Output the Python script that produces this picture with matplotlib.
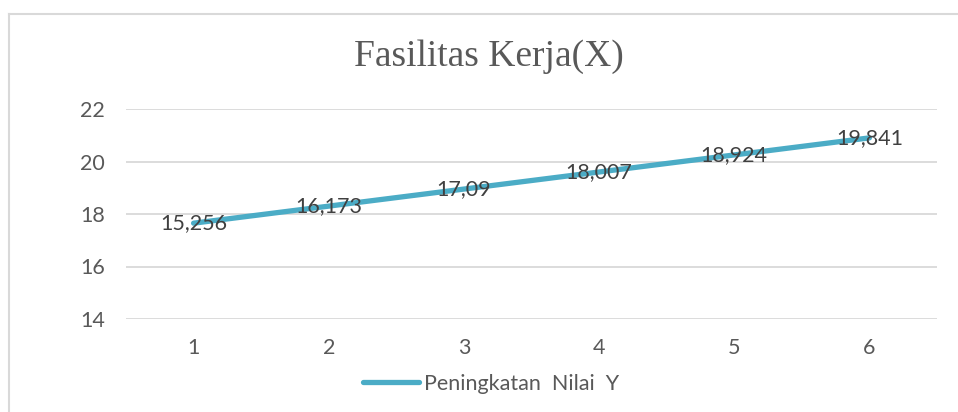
import matplotlib.pyplot as plt
from matplotlib.lines import Line2D

# data
kategori = [1, 2, 3, 4, 5, 6]
nilai_y = [17.65, 18.3, 18.95, 19.6, 20.25, 20.9]
label_data = ['15,256', '16,173', '17,09', '18,007', '18,924', '19,841']
y_ticks = [14, 16, 18, 20, 22]

fig = plt.figure(figsize=(9.58, 4.12), dpi=100)
ax = fig.add_axes([126 / 958, 1 - 319 / 412, (937 - 126) / 958, (319 - 109) / 412])

grey = '#d9d9d9'
text_grey = '#595959'
fs = 15.5

ax.plot(kategori, nilai_y, color='#4bacc6', lw=3.8, solid_capstyle='round',
        label='Peningkatan  Nilai  Y', zorder=3)
for x, y, t in zip(kategori, nilai_y, label_data):
    ax.text(x, y, t, ha='center', va='center', fontsize=fs,
            family='Lato', color='#404040', zorder=4)

ax.set_xlim(0.5, 6.5)
ax.set_ylim(14, 22)
ax.set_yticks(y_ticks)
ax.set_xticks(kategori)
ax.grid(axis='y', color=grey, lw=1.3)
ax.set_axisbelow(True)
for s in ax.spines.values():
    s.set_visible(False)
ax.tick_params(length=0, labelsize=fs, labelcolor=text_grey)
ax.tick_params(axis='y', pad=15)
ax.tick_params(axis='x', pad=14)
for lab in ax.get_xticklabels() + ax.get_yticklabels():
    lab.set_family('Lato')

fig.text(489 / 958, 1 - 57 / 412, 'Fasilitas Kerja(X)', ha='center', va='center',
         fontsize=27, family='Liberation Serif', color=text_grey)

fig.legend(loc='center', bbox_to_anchor=(491 / 958, 1 - 384 / 412), frameon=False,
           prop={'family': 'Lato', 'size': fs}, labelcolor=text_grey,
           handlelength=2.6, handletextpad=0.2)

# chart frame (only top and left edges visible)
fig.add_artist(Line2D([9 / 958, 9 / 958], [0, 1 - 14 / 412], color=grey, lw=1.5,
                      transform=fig.transFigure))
fig.add_artist(Line2D([9 / 958, 1], [1 - 14 / 412, 1 - 14 / 412], color=grey, lw=1.5,
                      transform=fig.transFigure))

fig.savefig('out.png', dpi=100)
